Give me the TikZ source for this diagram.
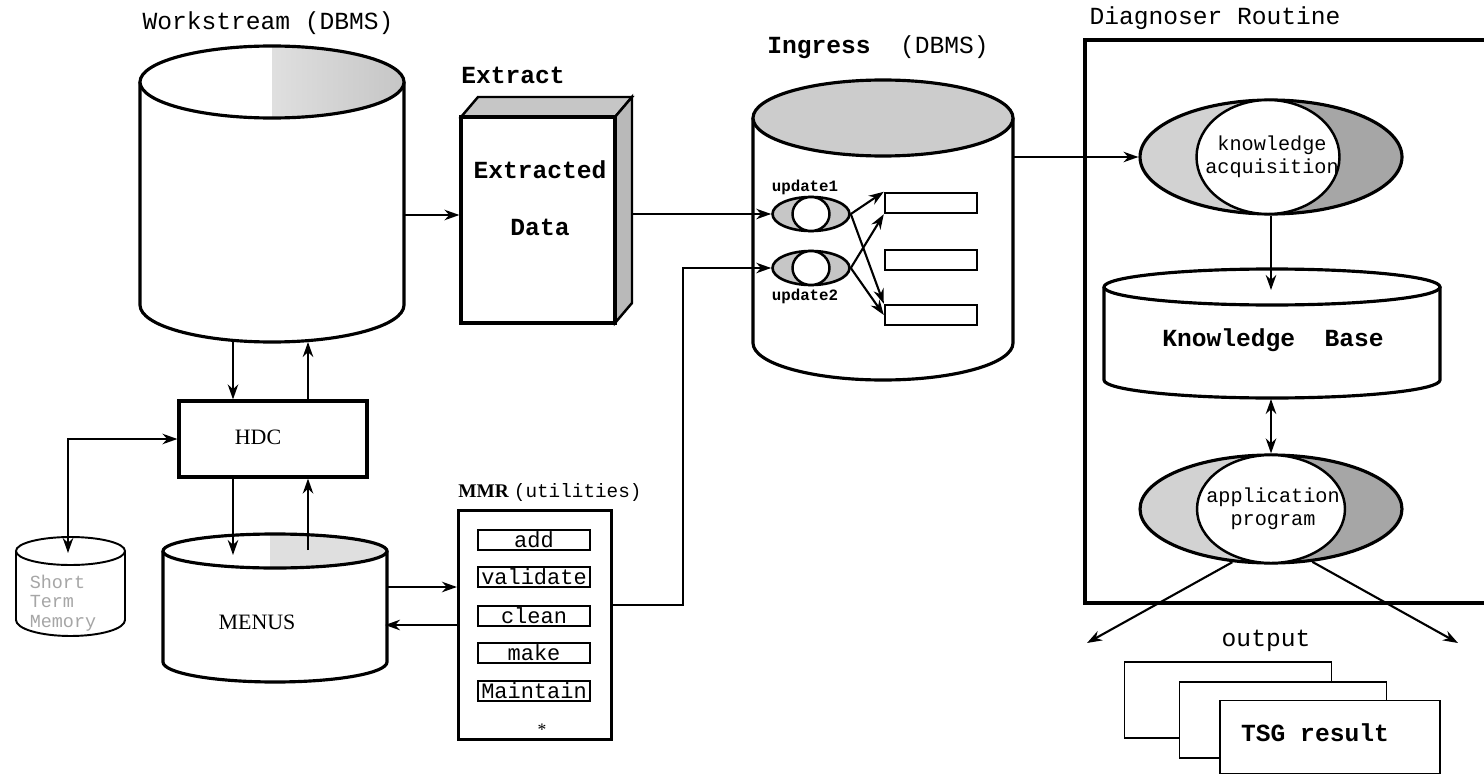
\documentclass[tikz,border=0pt]{standalone}
\usepackage{fontspec}
\setmainfont{Liberation Serif}
\setmonofont{Liberation Mono}
\usepackage{tikz}
\usetikzlibrary{arrows.meta}
\usetikzlibrary{shapes.geometric}
\tikzset{
    conn/.style={
        draw,
        -{Stealth[length=3mm, width=2.1mm]},
        line width=1.2pt
    },
    conn2/.style={
        draw,
        {Stealth[length=3mm, width=2.1mm]}-{Stealth[length=3mm, width=2.1mm]},
        line width=1.2pt
    },
    outline/.style={
        draw,
        line width=1.8pt
    },
    lbl/.style={font=\ttfamily\fontsize{14}{16}\selectfont},
    lblb/.style={font=\ttfamily\bfseries\fontsize{14}{16}\selectfont},
    crescent/.style={
        ellipse,
        draw,
        line width=1.8pt,
        inner sep=0pt,
        path picture={
            \fill[gray!35] (path picture bounding box.south west) rectangle (path picture bounding box.north);
            \fill[gray!70] (path picture bounding box.south) rectangle (path picture bounding box.north east);
        }
    },
    hole/.style={
        ellipse,
        draw,
        fill=white,
        inner sep=0pt
    },
    slot/.style={
        draw,
        line width=1.4pt,
        inner sep=0pt,
        minimum width=2.24cm,
        minimum height=0.4cm,
        font=\ttfamily\fontsize{12.5}{13}\selectfont
    },
    sheet/.style={
        draw,
        fill=white,
        line width=1pt,
        inner sep=0pt
    }
}

\begin{document}
\begin{tikzpicture}[x=0.02cm, y=0.02cm]
    \useasboundingbox (0,0) rectangle (1484,-777);

    % Workstream database
    \draw[outline, fill=white] (140,-82) -- (140,-305) arc[start angle=180, end angle=360, x radius=132, y radius=37] -- (404,-82);
    \fill[white] (272,-82) ellipse [x radius=132, y radius=36];
    \begin{scope}
        \clip (272,-82) ellipse [x radius=132, y radius=36];
        \fill[left color=gray!25, right color=gray!45] (272,-46) rectangle (404,-118);
    \end{scope}
    \draw[outline] (272,-82) ellipse [x radius=132, y radius=36];
    \node[lbl] (ws-lbl) at (268,-23) {Workstream (DBMS)};
    \coordinate (ws-e) at (404,-215);
    \coordinate (ws-b1) at (233,-341);
    \coordinate (ws-b2) at (308,-342);

    % Extract box
    \node[lblb] (ext-lbl) at (513,-75) {Extract};
    \filldraw[fill=gray!45, line width=1.4pt] (461,-117) -- (478,-97) -- (632,-97) -- (615,-117) -- cycle;
    \filldraw[fill=gray!55, line width=1.4pt] (615,-117) -- (632,-97) -- (632,-303) -- (615,-323) -- cycle;
    \node[outline, fill=white, minimum width=3.08cm, minimum height=4.12cm] (ext) at (538,-220) {};
    \node[lblb] (ext-t1) at (540,-170) {Extracted};
    \node[lblb] (ext-t2) at (540,-227) {Data};
    \coordinate (ext-e) at (632,-214);

    % Ingress database
    \draw[outline, fill=white] (753,-118) -- (753,-343) arc[start angle=180, end angle=360, x radius=130, y radius=37] -- (1013,-118);
    \draw[outline, fill=gray!40] (883,-118) ellipse [x radius=130, y radius=38];
    \node[font=\ttfamily\fontsize{14}{16}\selectfont] (ing-lbl) at (878,-47) {\textbf{Ingress}~~(DBMS)};
    \coordinate (ing-e) at (1013,-157);

    % update routines and tables
    \node[ellipse, draw, line width=1.5pt, fill=gray!45, inner sep=0pt, minimum width=1.54cm, minimum height=0.68cm] (u1) at (811,-214) {};
    \node[hole, line width=1.4pt, minimum width=0.74cm, minimum height=0.68cm] (u1-in) at (811,-214) {};
    \node[ellipse, draw, line width=1.5pt, fill=gray!45, inner sep=0pt, minimum width=1.54cm, minimum height=0.68cm] (u2) at (811,-268) {};
    \node[hole, line width=1.4pt, minimum width=0.74cm, minimum height=0.68cm] (u2-in) at (811,-268) {};
    \node[font=\ttfamily\bfseries\fontsize{9}{10}\selectfont] (u1-lbl) at (805,-187) {update1};
    \node[font=\ttfamily\bfseries\fontsize{9}{10}\selectfont] (u2-lbl) at (805,-296) {update2};
    \node[slot, minimum width=1.84cm] (r1) at (931,-203) {};
    \node[slot, minimum width=1.84cm] (r2) at (931,-260) {};
    \node[slot, minimum width=1.84cm] (r3) at (931,-315) {};

    % Diagnoser routine
    \draw[outline] (1484,-40) -- (1085,-40) -- (1085,-603) -- (1484,-603);
    \node[lbl] (diag-lbl) at (1215,-18) {Diagnoser Routine};
    \node[crescent, minimum width=5.24cm, minimum height=2.28cm] (ka) at (1271,-157) {};
    \node[hole, line width=1.4pt, minimum width=2.86cm, minimum height=2.28cm] (ka-in) at (1268,-157) {};
    \node[font=\ttfamily\fontsize{11.5}{13}\selectfont, align=center] (ka-txt) at (1272,-157) {knowledge\\acquisition};

    \draw[outline, fill=white] (1104,-287) -- (1104,-380) arc[start angle=180, end angle=360, x radius=168, y radius=18] -- (1440,-287);
    \draw[outline, fill=white] (1272,-287) ellipse [x radius=168, y radius=18];
    \node[lblb] (kb-lbl) at (1273,-340) {Knowledge~~Base};
    \coordinate (kb-t) at (1271,-290);
    \coordinate (kb-b) at (1271,-399);

    \node[crescent, minimum width=5.24cm, minimum height=2.16cm] (ap) at (1271,-509) {};
    \node[hole, line width=1.4pt, minimum width=2.96cm, minimum height=2.16cm] (ap-in) at (1271,-509) {};
    \node[font=\ttfamily\fontsize{11.5}{13}\selectfont, align=center] (ap-txt) at (1273,-509) {application\\program};

    % output sheets
    \node[lbl] (out-lbl) at (1266,-641) {output};
    \node[sheet, minimum width=4.14cm, minimum height=1.52cm] (o1) at (1228,-700) {};
    \node[sheet, minimum width=4.14cm, minimum height=1.52cm] (o2) at (1283,-720) {};
    \node[sheet, minimum width=4.4cm, minimum height=1.46cm] (o3) at (1330,-737) {};
    \node[lblb] (o3-txt) at (1315,-733) {TSG result};
    \coordinate (out-l) at (1087,-643);
    \coordinate (out-r) at (1458,-643);

    % HDC
    \node[outline, minimum width=3.76cm, minimum height=1.52cm] (hdc) at (273,-439) {};
    \node[font=\fontsize{12.5}{14}\selectfont] (hdc-lbl) at (258,-437) {HDC};

    % Short term memory
    \draw[line width=1.1pt, fill=white] (16,-551) -- (16,-620) arc[start angle=180, end angle=360, x radius=54.5, y radius=16] -- (125,-551);
    \draw[line width=1.1pt, fill=white] (70.5,-551) ellipse [x radius=54.5, y radius=14];
    \node[font=\ttfamily\fontsize{10.5}{11}\selectfont, text=gray!70, align=left] (stm-txt) at (63,-603) {Short\\Term\\Memory};
    \coordinate (stm-t) at (68,-553);

    % MENUS database
    \draw[outline, fill=white] (163,-551) -- (163,-662) arc[start angle=180, end angle=360, x radius=112, y radius=20] -- (387,-551);
    \fill[white] (275,-551) ellipse [x radius=112, y radius=17];
    \begin{scope}
        \clip (275,-551) ellipse [x radius=112, y radius=17];
        \fill[gray!25] (270,-530) rectangle (387,-570);
    \end{scope}
    \draw[outline] (275,-551) ellipse [x radius=112, y radius=17];
    \node[font=\fontsize{12.5}{14}\selectfont] (mn-lbl) at (257,-622) {MENUS};
    \coordinate (mn-t1) at (233,-555);
    \coordinate (mn-t2) at (308,-550);
    \coordinate (mn-r1) at (387,-587);
    \coordinate (mn-r2) at (385,-625);

    % MMR utilities
    \node[font=\fontsize{11}{13}\selectfont] (mmr-lbl) at (550,-492) {\textbf{MMR} \texttt{(utilities)}};
    \node[outline, minimum width=3.06cm, minimum height=4.58cm] (mmr) at (535,-625) {};
    \node[slot] (mmr-add) at (534,-540) {add};
    \node[slot] (mmr-val) at (534,-577) {validate};
    \node[slot] (mmr-cln) at (534,-616) {clean};
    \node[slot] (mmr-mk) at (534,-653) {make};
    \node[slot] (mmr-mt) at (534,-691) {Maintain};
    \node[font=\fontsize{10}{10}\selectfont] (mmr-star) at (542,-730) {*};
    \coordinate (mmr-e) at (612,-605);
    \coordinate (bend) at (683,-268);

    % connectors
    \draw[conn] (ws-e) -- (ws-e -| ext.west);
    \draw[conn] (ext-e) -- (u1.west);
    \draw[conn] (ws-b1) -- (ws-b1 |- hdc.north);
    \draw[conn] (hdc.north -| ws-b2) -- (ws-b2);
    \draw[conn] (hdc.south -| mn-t1) -- (mn-t1);
    \draw[conn] (mn-t2) -- (mn-t2 |- hdc.south);
    \draw[conn2] (stm-t) |- (hdc.west);
    \draw[conn] (mn-r1) -- (mn-r1 -| mmr.west);
    \draw[conn] (mn-r2 -| mmr.west) -- (mn-r2);
    \draw[conn] (mmr-e) -| (bend) -- (u2.west);
    \draw[conn] (u1.east) -- (r1.north west);
    \draw[conn] (u1.east) -- (r3.north west);
    \draw[conn] (u2.east) -- (r1.south west);
    \draw[conn] (u2.east) -- (r3.west);
    \draw[conn] (ing-e) -- (ka.west);
    \draw[conn] (ka.south) -- (kb-t);
    \draw[conn2] (kb-b) -- (ap.north);
    \draw[conn] (ap.-126) -- (out-l);
    \draw[conn] (ap.-52) -- (out-r);
\end{tikzpicture}
\end{document}
